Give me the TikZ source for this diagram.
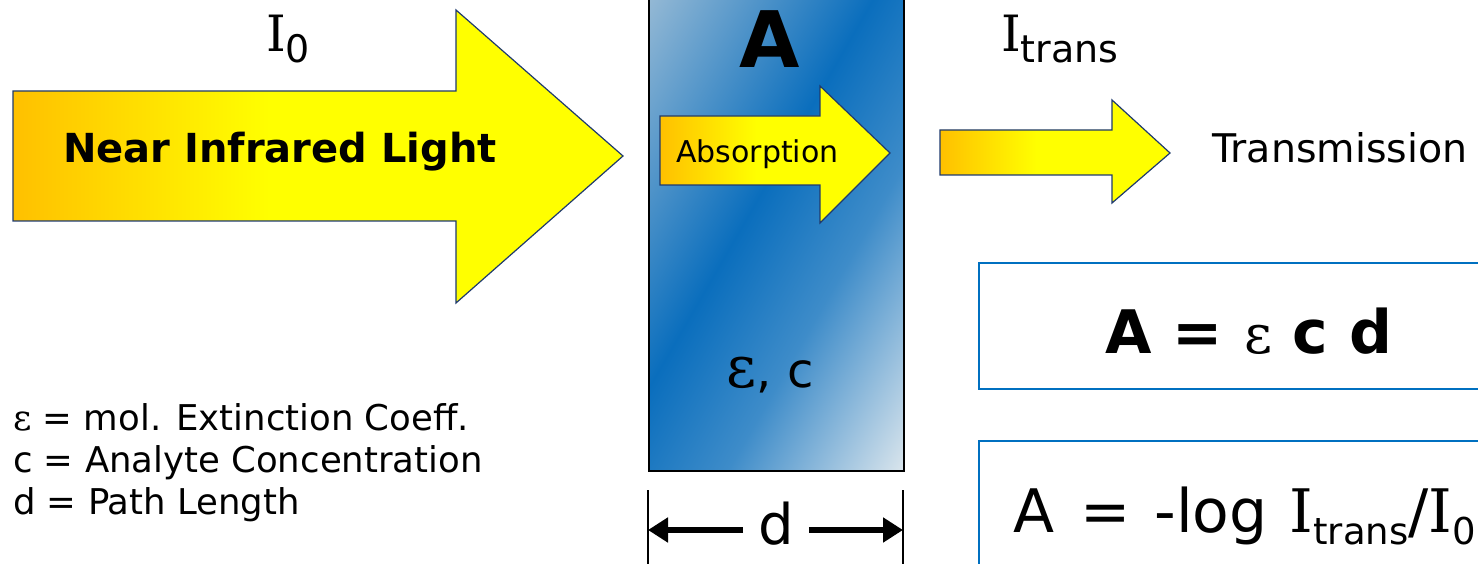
\documentclass[tikz,border=0pt]{standalone}
\usepackage{fontspec}
\setmainfont{DejaVu Sans}
\newfontfamily\slabfont{DejaVu Serif}
\usetikzlibrary{arrows.meta,positioning}

\definecolor{beamorange}{HTML}{FFC000}
\definecolor{beamyellow}{HTML}{FFFF00}
\definecolor{beamedge}{HTML}{1F3A6E}
\definecolor{cuvlight}{HTML}{9CBDD6}
\definecolor{cuvdark}{HTML}{0A6EBD}
\definecolor{cuvmid}{HTML}{3E8CC9}
\definecolor{cuvpale}{HTML}{D8E4EC}
\definecolor{eqblue}{HTML}{0070C0}

\pgfdeclarehorizontalshading{beamshade}{100bp}{color(0bp)=(beamorange); color(25bp)=(beamorange); color(46bp)=(beamyellow); color(100bp)=(beamyellow)}
\pgfdeclarehorizontalshading{cuvshade}{100bp}{color(0bp)=(cuvlight); color(16bp)=(cuvlight); color(46bp)=(cuvdark); color(62bp)=(cuvmid); color(84bp)=(cuvpale); color(100bp)=(cuvpale)}

\newcommand{\px}[1]{\fontsize{#1}{#1}\selectfont}
\newcommand{\eps}{{\slabfont\mdseries ε}}

\begin{document}
\begin{tikzpicture}[
  x=1pt, y=-1pt,
  every node/.style={inner sep=0pt},
  beam/.style={shade, shading=beamshade, draw=beamedge, line width=1.2pt},
  eqbox/.style={draw=eqblue, line width=2pt},
  >={Triangle[length=20pt, width=24pt]}
]
\useasboundingbox (0,0) rectangle (1478,564);

% sample cell
\node[draw, line width=2pt, shade, shading=cuvshade, shading angle=-30,
  minimum width=255pt, minimum height=500pt, anchor=south west] (cuv) at (648,472) {};
\node[anchor=base, font=\px{78}\bfseries] (absA) at (770,68) {A};
\node[anchor=base, font=\px{48}] (epsc) at (770,387) {{\px{58}\eps}, c};

% light beams
\shade[beam] (13,91) -- (456,91) -- (456,10) -- (623,156) -- (456,303) -- (456,221) -- (13,221) -- cycle;
\shade[beam] (660,116) -- (820,116) -- (820,86) -- (890,153) -- (820,223) -- (820,185) -- (660,185) -- cycle;
\shade[beam] (940,130) -- (1112,130) -- (1112,100) -- (1170,153) -- (1112,203) -- (1112,175) -- (940,175) -- cycle;

\node[anchor=base west, font=\px{40}\bfseries] (nir) at (63,163) {Near Infrared Light};
\node[anchor=base west, font=\px{30}] (absorb) at (676,163) {Absorption};
\node[anchor=base west, font=\px{39.5}] (transm) at (1212,163) {Transmission};

\node[anchor=base west, font=\px{50}] (izero) at (266,52) {{\slabfont I}\raisebox{-11pt}{\px{38}0}};
\node[anchor=base west, font=\px{50}] (itrans) at (1001,52) {{\slabfont I}\raisebox{-11pt}{\px{38}trans}};

% legend
\node[anchor=base west, font=\px{35.5}] (lg1) at (13,430) {\eps{} = mol. Extinction Coeff.};
\node[anchor=base west, font=\px{35.5}] (lg2) at (13,472) {c = Analyte Concentration};
\node[anchor=base west, font=\px{35.5}] (lg3) at (13,514) {d = Path Length};

% equations
\node[eqbox, anchor=north west, minimum width=560pt, minimum height=126pt] (eq1) at (978,262) {};
\node[anchor=base, font=\px{60}\bfseries] (eq1txt) at (1249,353) {A = {\px{54}\eps} c d};
\node[eqbox, anchor=north west, minimum width=560pt, minimum height=200pt] (eq2) at (978,440) {};
\node[anchor=base west, font=\px{60}] (eq2txt) at (1013,532)
  {A\hspace{26pt}=\hspace{24pt}-log\hspace{22pt}{\slabfont I}\raisebox{-12pt}{\px{37}trans}/{\slabfont I}\raisebox{-12pt}{\px{37}0}};

% path length
\coordinate (dimL) at (648,490);
\coordinate (dimR) at (903,490);
\draw[line width=2.5pt] (dimL) -- ++(0,80);
\draw[line width=2.5pt] (dimR) -- ++(0,80);
\node[font=\px{56}, inner xsep=15pt] (dd) at (776,524) {d};
\coordinate (dlft) at ([yshift=-6pt]dd.west);
\coordinate (drgt) at ([yshift=-6pt]dd.east);
\draw[->, line width=6pt] (dlft) -- (dlft -| dimL);
\draw[->, line width=6pt] (drgt) -- (drgt -| dimR);
\end{tikzpicture}
\end{document}
